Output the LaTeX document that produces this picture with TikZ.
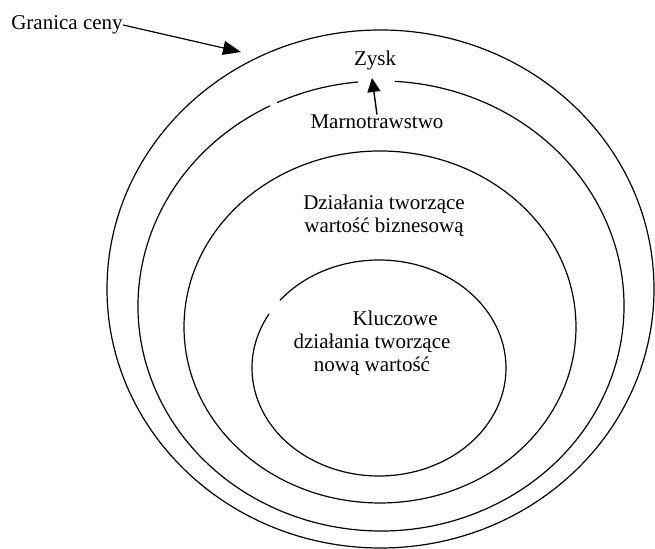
\documentclass[tikz,border=0pt]{standalone}
\usepackage{fontspec}
\setmainfont{Liberation Serif}
\usepackage{tikz}
\usetikzlibrary{arrows.meta}
\tikzset{ring/.style={line width=.6pt},
	label node/.style={inner sep=0pt,align=center,font=\fontsize{10.5}{11.5}\selectfont},
	big tip/.style={-{Triangle[length=9pt,width=7pt]},line width=.6pt},
	small tip/.style={-{Triangle[length=7pt,width=6.5pt]},line width=.7pt},}

\begin{document}
\begin{tikzpicture}[x=.5pt,y=.5pt]
	\useasboundingbox (0,0) rectangle (655,549);

	% rings, from the outside in
	\draw[ring] (380.5,260) ellipse [x radius=273.5,y radius=259];
	\draw[ring] (381,243) ++(95.4:243 and 225)
		arc [start angle=95.4,end angle=115.3,x radius=243,y radius=225];
	\draw[ring] (381,243) ++(117.2:243 and 225)
		arc [start angle=117.2,end angle=446.7,x radius=243,y radius=225];
	\draw[ring] (380,222) ellipse [x radius=196,y radius=176];
	\draw[ring] (379,181) ++(150:127 and 108)
		arc [start angle=150,end angle=501.2,x radius=127,y radius=108];

	\node[label node] (granica) at (67,524) {Granica ceny};
	\node[label node] (zysk) at (375,489) {Zysk};
	\node[label node] (marn) at (377,427) {Marnotrawstwo};
	\node[label node] (dzialania) at (384,333) {Działania tworzące\\ wartość biznesową};
	\node[label node] (kluczowe) at (372,206) {\hspace*{2.2em}Kluczowe\\działania tworzące\\nową wartość};

	\coordinate (granica end) at (241,497);
	\coordinate (zysk end) at (372,471);

	\path[draw,big tip]
	(granica.east) -- (granica end)
	;
	\path[draw,small tip]
	(marn.north) -- (zysk end)
	;
\end{tikzpicture}
\end{document}
